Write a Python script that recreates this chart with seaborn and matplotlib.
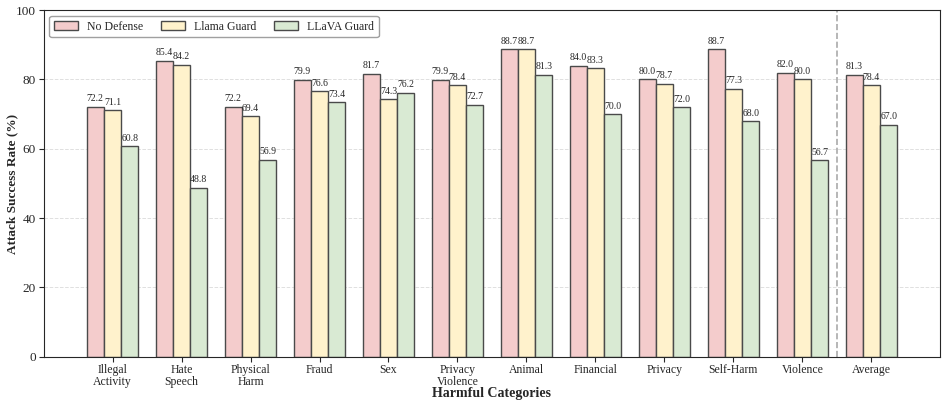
import pandas as pd
import matplotlib.pyplot as plt
import seaborn as sns

categories = ["Illegal\nActivity", "Hate\nSpeech", "Physical\nHarm", "Fraud", "Sex",
              "Privacy\nViolence", "Animal", "Financial", "Privacy", "Self-Harm",
              "Violence", "Average"]
no_defense = [72.2, 85.4, 72.2, 79.9, 81.7, 79.9, 88.7, 84.0, 80.0, 88.7, 82.0, 81.3]
llama_guard = [71.1, 84.2, 69.4, 76.6, 74.3, 78.4, 88.7, 83.3, 78.7, 77.3, 80.0, 78.4]
llava_guard = [60.8, 48.8, 56.9, 73.4, 76.2, 72.7, 81.3, 70.0, 72.0, 68.0, 56.7, 67.0]
series = ["No Defense", "Llama Guard", "LLaVA Guard"]
colors = ["#F4CCCC", "#FFF2CC", "#D9EAD3"]

df = pd.DataFrame({
    "cat": categories * 3,
    "val": no_defense + llama_guard + llava_guard,
    "method": [s for s in series for _ in categories],
})

sns.set_style("ticks")
plt.rcParams["font.family"] = ["Liberation Serif", "DejaVu Serif"]

fig, ax = plt.subplots(figsize=(9.47, 4.05), dpi=100)
sns.barplot(data=df, x="cat", y="val", hue="method", palette=colors, width=0.75,
            saturation=1, edgecolor="#4a4a4a", linewidth=1, ax=ax)

for c in ax.containers:
    ax.bar_label(c, fmt="%.1f", padding=2.5, fontsize=7)

ax.axvline(10.5, color="#aaaaaa", linestyle="--", linewidth=1.2)
ax.set_ylim(0, 100)
ax.set_xlim(-1, 12)
ax.yaxis.grid(True, linestyle="--", color="#e0e0e0", linewidth=0.7)
ax.set_axisbelow(True)
ax.set_xlabel("Harmful Categories", fontsize=10, fontweight="bold", labelpad=-1)
ax.set_ylabel("Attack Success Rate (%)", fontsize=9.5, fontweight="bold", labelpad=-2)
ax.tick_params(axis="x", labelsize=8.5, pad=2)
for t in ax.get_xticklabels():
    t.set_linespacing(0.95)
ax.tick_params(axis="y", labelsize=9.5, pad=2)
ax.legend(loc="upper left", ncol=3, fontsize=8.5, frameon=True, edgecolor="#888888",
          handlelength=2.0, columnspacing=1.5, borderpad=0.4)

fig.subplots_adjust(left=0.046, right=0.993, top=0.975, bottom=0.119)
fig.savefig("out.png")
